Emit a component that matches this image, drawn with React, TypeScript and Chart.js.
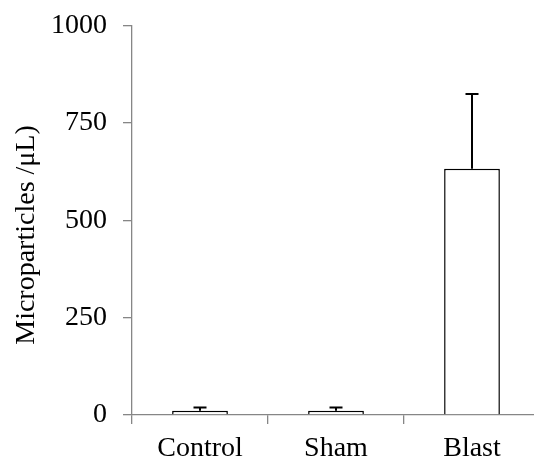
import React, { useEffect, useRef } from "react";
import { Chart, registerables } from "chart.js";

Chart.register(...registerables);

const categories = ["Control", "Sham", "Blast"];
const means = [11, 11, 633];
const errors = [8, 8, 192];
const yTicks = [0, 250, 500, 750, 1000];
const yTitle = "Microparticles /μL)";

const FONT = "'Liberation Serif', 'Times New Roman', serif";
const AXIS = "#868686";

const errorBarPlugin = {
  id: "errorBars",
  afterDatasetsDraw(chart: any) {
    const ctx = chart.ctx;
    const meta = chart.getDatasetMeta(0);
    const yScale = chart.scales.y;
    ctx.save();
    ctx.strokeStyle = "#000";
    ctx.lineWidth = 2;
    meta.data.forEach((bar: any, i: number) => {
      const x = bar.x;
      const yTop = yScale.getPixelForValue(means[i]);
      const yErr = yScale.getPixelForValue(means[i] + errors[i]);
      ctx.beginPath();
      ctx.moveTo(x, yTop);
      ctx.lineTo(x, yErr);
      ctx.moveTo(x - 6.5, yErr);
      ctx.lineTo(x + 6.5, yErr);
      ctx.stroke();
    });
    ctx.restore();
  },
};

const titlePlugin = {
  id: "yTitle",
  afterDraw(chart: any) {
    const ctx = chart.ctx;
    ctx.save();
    ctx.translate(27, 242);
    ctx.rotate(-Math.PI / 2);
    ctx.font = `28px ${FONT}`;
    ctx.fillStyle = "#000";
    ctx.textAlign = "center";
    ctx.textBaseline = "middle";
    ctx.fillText(yTitle, 0, 0);
    ctx.restore();
  },
};

export default function App() {
  const ref = useRef<HTMLCanvasElement>(null);
  useEffect(() => {
    if (!ref.current) return;
    const chart = new Chart(ref.current, {
      type: "bar",
      data: {
        labels: categories,
        datasets: [
          {
            data: means,
            backgroundColor: "#ffffff",
            borderColor: "#000000",
            borderWidth: 1.5,
            categoryPercentage: 1,
            barPercentage: 0.41,
          },
        ],
      },
      options: {
        animation: false,
        responsive: false,
        layout: { padding: { top: 18, right: 20, left: 0, bottom: 0 } },
        plugins: { legend: { display: false }, tooltip: { enabled: false } },
        scales: {
          x: {
            offset: true,
            grid: {
              offset: true,
              drawOnChartArea: false,
              drawTicks: true,
              tickLength: 9,
              color: AXIS,
              lineWidth: 1.3,
            },
            border: { color: AXIS, width: 1.3 },
            ticks: {
              color: "#000",
              font: { family: FONT, size: 28 },
              padding: 8,
              maxRotation: 0,
            },
            afterFit(s: any) {
              s.height = 45;
            },
          },
          y: {
            min: 0,
            max: 1000,
            afterBuildTicks(s: any) {
              s.ticks = yTicks.map((v) => ({ value: v }));
            },
            grid: {
              drawOnChartArea: false,
              drawTicks: true,
              tickLength: 9,
              color: AXIS,
              lineWidth: 1.3,
            },
            border: { color: AXIS, width: 1.3 },
            ticks: {
              color: "#000",
              font: { family: FONT, size: 28 },
              padding: 16,
              callback: (v: any) => String(v),
            },
            afterFit(s: any) {
              s.width = 132;
            },
          },
        },
      },
      plugins: [errorBarPlugin, titlePlugin],
    });
    return () => chart.destroy();
  }, []);
  return (
    <div
      style={{
        position: "fixed",
        left: 0,
        top: 0,
        width: 534,
        height: 460,
        overflow: "hidden",
        background: "#fff",
      }}
    >
      <canvas
        ref={ref}
        width={560}
        height={467}
        style={{ width: 560, height: 467, display: "block", position: "absolute", left: 0, top: -7 }}
      />
    </div>
  );
}
